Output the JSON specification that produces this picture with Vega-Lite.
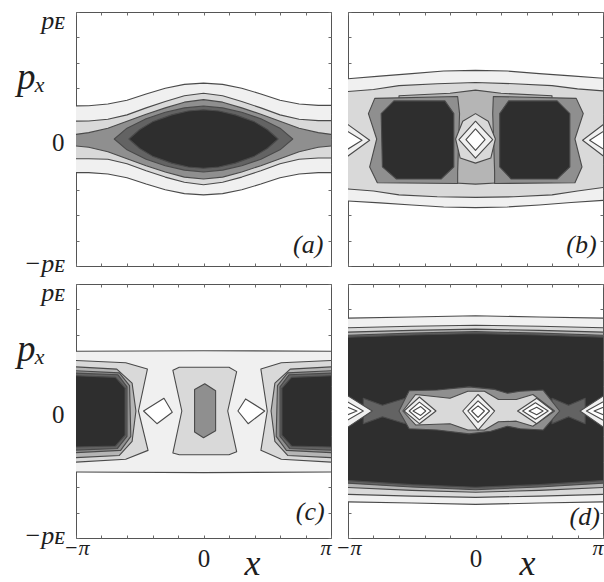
{
  "$schema": "https://vega.github.io/schema/vega-lite/v6.json",
  "background": "white",
  "padding": {"left": 15, "top": 6, "right": 0, "bottom": 0},
  "config": {
    "view": {"stroke": "#555555", "strokeWidth": 1},
    "axis": {"domain": false, "grid": false, "ticks": true, "tickSize": -3, "tickColor": "#6a6a6a", "tickWidth": 1, "labelFont": "Liberation Serif", "labelColor": "#1e1e1e", "titleFont": "Liberation Serif", "titleColor": "#1e1e1e", "titleFontWeight": "normal", "labelOverlap": false, "labelFlush": false, "labelBound": false}
  },
  "datasets": {
    "A": [
      {"id":"a1","lv":1,"i":0,"x":-1.05,"p":0.26},{"id":"a1","lv":1,"i":1,"x":-0.9,"p":0.262},{"id":"a1","lv":1,"i":2,"x":-0.75,"p":0.275},{"id":"a1","lv":1,"i":3,"x":-0.6,"p":0.305},{"id":"a1","lv":1,"i":4,"x":-0.45,"p":0.355},{"id":"a1","lv":1,"i":5,"x":-0.3,"p":0.4},{"id":"a1","lv":1,"i":6,"x":-0.15,"p":0.43},{"id":"a1","lv":1,"i":7,"x":0,"p":0.44},{"id":"a1","lv":1,"i":8,"x":0.15,"p":0.43},{"id":"a1","lv":1,"i":9,"x":0.3,"p":0.4},{"id":"a1","lv":1,"i":10,"x":0.45,"p":0.355},{"id":"a1","lv":1,"i":11,"x":0.6,"p":0.305},{"id":"a1","lv":1,"i":12,"x":0.75,"p":0.275},{"id":"a1","lv":1,"i":13,"x":0.9,"p":0.265},{"id":"a1","lv":1,"i":14,"x":1.05,"p":0.265},
      {"id":"a1","lv":1,"i":15,"x":1.05,"p":-0.265},{"id":"a1","lv":1,"i":16,"x":0.9,"p":-0.265},{"id":"a1","lv":1,"i":17,"x":0.75,"p":-0.275},{"id":"a1","lv":1,"i":18,"x":0.6,"p":-0.305},{"id":"a1","lv":1,"i":19,"x":0.45,"p":-0.355},{"id":"a1","lv":1,"i":20,"x":0.3,"p":-0.4},{"id":"a1","lv":1,"i":21,"x":0.15,"p":-0.43},{"id":"a1","lv":1,"i":22,"x":0,"p":-0.44},{"id":"a1","lv":1,"i":23,"x":-0.15,"p":-0.43},{"id":"a1","lv":1,"i":24,"x":-0.3,"p":-0.4},{"id":"a1","lv":1,"i":25,"x":-0.45,"p":-0.355},{"id":"a1","lv":1,"i":26,"x":-0.6,"p":-0.305},{"id":"a1","lv":1,"i":27,"x":-0.75,"p":-0.275},{"id":"a1","lv":1,"i":28,"x":-0.9,"p":-0.265},{"id":"a1","lv":1,"i":29,"x":-1.05,"p":-0.265},
      {"id":"a2","lv":2,"i":0,"x":-1.05,"p":0.14},{"id":"a2","lv":2,"i":1,"x":-0.9,"p":0.142},{"id":"a2","lv":2,"i":2,"x":-0.75,"p":0.155},{"id":"a2","lv":2,"i":3,"x":-0.6,"p":0.19},{"id":"a2","lv":2,"i":4,"x":-0.45,"p":0.245},{"id":"a2","lv":2,"i":5,"x":-0.3,"p":0.295},{"id":"a2","lv":2,"i":6,"x":-0.15,"p":0.34},{"id":"a2","lv":2,"i":7,"x":0,"p":0.36},{"id":"a2","lv":2,"i":8,"x":0.15,"p":0.34},{"id":"a2","lv":2,"i":9,"x":0.3,"p":0.295},{"id":"a2","lv":2,"i":10,"x":0.45,"p":0.245},{"id":"a2","lv":2,"i":11,"x":0.6,"p":0.19},{"id":"a2","lv":2,"i":12,"x":0.75,"p":0.155},{"id":"a2","lv":2,"i":13,"x":0.9,"p":0.145},{"id":"a2","lv":2,"i":14,"x":1.05,"p":0.145},
      {"id":"a2","lv":2,"i":15,"x":1.05,"p":-0.15},{"id":"a2","lv":2,"i":16,"x":0.9,"p":-0.15},{"id":"a2","lv":2,"i":17,"x":0.75,"p":-0.16},{"id":"a2","lv":2,"i":18,"x":0.6,"p":-0.195},{"id":"a2","lv":2,"i":19,"x":0.45,"p":-0.25},{"id":"a2","lv":2,"i":20,"x":0.3,"p":-0.3},{"id":"a2","lv":2,"i":21,"x":0.15,"p":-0.34},{"id":"a2","lv":2,"i":22,"x":0,"p":-0.36},{"id":"a2","lv":2,"i":23,"x":-0.15,"p":-0.34},{"id":"a2","lv":2,"i":24,"x":-0.3,"p":-0.3},{"id":"a2","lv":2,"i":25,"x":-0.45,"p":-0.25},{"id":"a2","lv":2,"i":26,"x":-0.6,"p":-0.195},{"id":"a2","lv":2,"i":27,"x":-0.75,"p":-0.16},{"id":"a2","lv":2,"i":28,"x":-0.9,"p":-0.155},{"id":"a2","lv":2,"i":29,"x":-1.05,"p":-0.155},
      {"id":"a3","lv":4,"i":0,"x":-1.05,"p":0.03},{"id":"a3","lv":4,"i":1,"x":-0.9,"p":0.05},{"id":"a3","lv":4,"i":2,"x":-0.75,"p":0.085},{"id":"a3","lv":4,"i":3,"x":-0.6,"p":0.14},{"id":"a3","lv":4,"i":4,"x":-0.45,"p":0.195},{"id":"a3","lv":4,"i":5,"x":-0.3,"p":0.245},{"id":"a3","lv":4,"i":6,"x":-0.15,"p":0.29},{"id":"a3","lv":4,"i":7,"x":0,"p":0.31},{"id":"a3","lv":4,"i":8,"x":0.15,"p":0.29},{"id":"a3","lv":4,"i":9,"x":0.3,"p":0.245},{"id":"a3","lv":4,"i":10,"x":0.45,"p":0.195},{"id":"a3","lv":4,"i":11,"x":0.6,"p":0.14},{"id":"a3","lv":4,"i":12,"x":0.75,"p":0.085},{"id":"a3","lv":4,"i":13,"x":0.9,"p":0.05},{"id":"a3","lv":4,"i":14,"x":1.05,"p":0.03},
      {"id":"a3","lv":4,"i":15,"x":1.05,"p":-0.05},{"id":"a3","lv":4,"i":16,"x":0.9,"p":-0.065},{"id":"a3","lv":4,"i":17,"x":0.75,"p":-0.1},{"id":"a3","lv":4,"i":18,"x":0.6,"p":-0.155},{"id":"a3","lv":4,"i":19,"x":0.45,"p":-0.21},{"id":"a3","lv":4,"i":20,"x":0.3,"p":-0.26},{"id":"a3","lv":4,"i":21,"x":0.15,"p":-0.3},{"id":"a3","lv":4,"i":22,"x":0,"p":-0.315},{"id":"a3","lv":4,"i":23,"x":-0.15,"p":-0.3},{"id":"a3","lv":4,"i":24,"x":-0.3,"p":-0.26},{"id":"a3","lv":4,"i":25,"x":-0.45,"p":-0.21},{"id":"a3","lv":4,"i":26,"x":-0.6,"p":-0.155},{"id":"a3","lv":4,"i":27,"x":-0.75,"p":-0.1},{"id":"a3","lv":4,"i":28,"x":-0.9,"p":-0.065},{"id":"a3","lv":4,"i":29,"x":-1.05,"p":-0.05},
      {"id":"a4","lv":5,"i":0,"x":-0.7,"p":0},{"id":"a4","lv":5,"i":1,"x":-0.6,"p":0.085},{"id":"a4","lv":5,"i":2,"x":-0.45,"p":0.16},{"id":"a4","lv":5,"i":3,"x":-0.3,"p":0.21},{"id":"a4","lv":5,"i":4,"x":-0.15,"p":0.245},{"id":"a4","lv":5,"i":5,"x":0,"p":0.26},{"id":"a4","lv":5,"i":6,"x":0.15,"p":0.245},{"id":"a4","lv":5,"i":7,"x":0.3,"p":0.21},{"id":"a4","lv":5,"i":8,"x":0.45,"p":0.16},{"id":"a4","lv":5,"i":9,"x":0.6,"p":0.085},{"id":"a4","lv":5,"i":10,"x":0.7,"p":0},{"id":"a4","lv":5,"i":11,"x":0.6,"p":-0.085},{"id":"a4","lv":5,"i":12,"x":0.45,"p":-0.16},{"id":"a4","lv":5,"i":13,"x":0.3,"p":-0.21},{"id":"a4","lv":5,"i":14,"x":0.15,"p":-0.245},{"id":"a4","lv":5,"i":15,"x":0,"p":-0.26},{"id":"a4","lv":5,"i":16,"x":-0.15,"p":-0.245},{"id":"a4","lv":5,"i":17,"x":-0.3,"p":-0.21},{"id":"a4","lv":5,"i":18,"x":-0.45,"p":-0.16},{"id":"a4","lv":5,"i":19,"x":-0.6,"p":-0.085},
      {"id":"a5","lv":6,"i":0,"x":-0.585,"p":0},{"id":"a5","lv":6,"i":1,"x":-0.5,"p":0.075},{"id":"a5","lv":6,"i":2,"x":-0.4,"p":0.135},{"id":"a5","lv":6,"i":3,"x":-0.25,"p":0.19},{"id":"a5","lv":6,"i":4,"x":-0.12,"p":0.22},{"id":"a5","lv":6,"i":5,"x":0,"p":0.23},{"id":"a5","lv":6,"i":6,"x":0.12,"p":0.22},{"id":"a5","lv":6,"i":7,"x":0.25,"p":0.19},{"id":"a5","lv":6,"i":8,"x":0.4,"p":0.135},{"id":"a5","lv":6,"i":9,"x":0.5,"p":0.075},{"id":"a5","lv":6,"i":10,"x":0.585,"p":0},{"id":"a5","lv":6,"i":11,"x":0.5,"p":-0.075},{"id":"a5","lv":6,"i":12,"x":0.4,"p":-0.135},{"id":"a5","lv":6,"i":13,"x":0.25,"p":-0.19},{"id":"a5","lv":6,"i":14,"x":0.12,"p":-0.22},{"id":"a5","lv":6,"i":15,"x":0,"p":-0.23},{"id":"a5","lv":6,"i":16,"x":-0.12,"p":-0.22},{"id":"a5","lv":6,"i":17,"x":-0.25,"p":-0.19},{"id":"a5","lv":6,"i":18,"x":-0.4,"p":-0.135},{"id":"a5","lv":6,"i":19,"x":-0.5,"p":-0.075}
    ],
    "B": [
      {"id":"b1","lv":1,"i":0,"x":-1.05,"p":0.47},{"id":"b1","lv":1,"i":1,"x":-0.75,"p":0.495},{"id":"b1","lv":1,"i":2,"x":-0.5,"p":0.515},{"id":"b1","lv":1,"i":3,"x":-0.25,"p":0.535},{"id":"b1","lv":1,"i":4,"x":0,"p":0.54},{"id":"b1","lv":1,"i":5,"x":0.25,"p":0.535},{"id":"b1","lv":1,"i":6,"x":0.5,"p":0.515},{"id":"b1","lv":1,"i":7,"x":0.75,"p":0.497},{"id":"b1","lv":1,"i":8,"x":1.05,"p":0.475},
      {"id":"b1","lv":1,"i":9,"x":1.05,"p":-0.48},{"id":"b1","lv":1,"i":10,"x":0.75,"p":-0.5},{"id":"b1","lv":1,"i":11,"x":0.5,"p":-0.52},{"id":"b1","lv":1,"i":12,"x":0.25,"p":-0.535},{"id":"b1","lv":1,"i":13,"x":0,"p":-0.54},{"id":"b1","lv":1,"i":14,"x":-0.25,"p":-0.535},{"id":"b1","lv":1,"i":15,"x":-0.5,"p":-0.52},{"id":"b1","lv":1,"i":16,"x":-0.75,"p":-0.503},{"id":"b1","lv":1,"i":17,"x":-1.05,"p":-0.485},
      {"id":"b2","lv":2,"i":0,"x":-1.05,"p":0.37},{"id":"b2","lv":2,"i":1,"x":-0.8,"p":0.39},{"id":"b2","lv":2,"i":2,"x":-0.6,"p":0.42},{"id":"b2","lv":2,"i":3,"x":-0.3,"p":0.435},{"id":"b2","lv":2,"i":4,"x":0,"p":0.445},{"id":"b2","lv":2,"i":5,"x":0.3,"p":0.435},{"id":"b2","lv":2,"i":6,"x":0.6,"p":0.42},{"id":"b2","lv":2,"i":7,"x":0.8,"p":0.395},{"id":"b2","lv":2,"i":8,"x":1.05,"p":0.375},
      {"id":"b2","lv":2,"i":9,"x":1.05,"p":-0.375},{"id":"b2","lv":2,"i":10,"x":0.8,"p":-0.41},{"id":"b2","lv":2,"i":11,"x":0.6,"p":-0.44},{"id":"b2","lv":2,"i":12,"x":0.3,"p":-0.455},{"id":"b2","lv":2,"i":13,"x":0,"p":-0.46},{"id":"b2","lv":2,"i":14,"x":-0.3,"p":-0.455},{"id":"b2","lv":2,"i":15,"x":-0.6,"p":-0.44},{"id":"b2","lv":2,"i":16,"x":-0.8,"p":-0.41},{"id":"b2","lv":2,"i":17,"x":-1.05,"p":-0.39},
      {"id":"b3","lv":3,"i":0,"x":-0.6,"p":0.34},{"id":"b3","lv":3,"i":1,"x":-0.2,"p":0.36},{"id":"b3","lv":3,"i":2,"x":0,"p":0.385},{"id":"b3","lv":3,"i":3,"x":0.2,"p":0.36},{"id":"b3","lv":3,"i":4,"x":0.6,"p":0.34},{"id":"b3","lv":3,"i":5,"x":0.6,"p":-0.34},{"id":"b3","lv":3,"i":6,"x":0.2,"p":-0.345},{"id":"b3","lv":3,"i":7,"x":0,"p":-0.355},{"id":"b3","lv":3,"i":8,"x":-0.2,"p":-0.345},{"id":"b3","lv":3,"i":9,"x":-0.6,"p":-0.34},
      {"id":"b4","lv":4,"i":0,"x":-0.79,"p":0.32},{"id":"b4","lv":4,"i":1,"x":-0.14,"p":0.335},{"id":"b4","lv":4,"i":2,"x":-0.125,"p":0.2},{"id":"b4","lv":4,"i":3,"x":-0.14,"p":-0.26},{"id":"b4","lv":4,"i":4,"x":-0.14,"p":-0.35},{"id":"b4","lv":4,"i":5,"x":-0.77,"p":-0.345},{"id":"b4","lv":4,"i":6,"x":-0.83,"p":-0.22},{"id":"b4","lv":4,"i":7,"x":-0.775,"p":0},{"id":"b4","lv":4,"i":8,"x":-0.84,"p":0.2},
      {"id":"b5","lv":4,"i":0,"x":0.14,"p":0.335},{"id":"b5","lv":4,"i":1,"x":0.79,"p":0.32},{"id":"b5","lv":4,"i":2,"x":0.845,"p":0.2},{"id":"b5","lv":4,"i":3,"x":0.78,"p":0},{"id":"b5","lv":4,"i":4,"x":0.835,"p":-0.22},{"id":"b5","lv":4,"i":5,"x":0.78,"p":-0.345},{"id":"b5","lv":4,"i":6,"x":0.15,"p":-0.35},{"id":"b5","lv":4,"i":7,"x":0.15,"p":-0.26},{"id":"b5","lv":4,"i":8,"x":0.135,"p":0.2},
      {"id":"b6","lv":6,"i":0,"x":-0.74,"p":0.2},{"id":"b6","lv":6,"i":1,"x":-0.64,"p":0.3},{"id":"b6","lv":6,"i":2,"x":-0.24,"p":0.3},{"id":"b6","lv":6,"i":3,"x":-0.17,"p":0.2},{"id":"b6","lv":6,"i":4,"x":-0.17,"p":-0.22},{"id":"b6","lv":6,"i":5,"x":-0.27,"p":-0.315},{"id":"b6","lv":6,"i":6,"x":-0.62,"p":-0.315},{"id":"b6","lv":6,"i":7,"x":-0.73,"p":-0.22},
      {"id":"b7","lv":6,"i":0,"x":0.19,"p":0.2},{"id":"b7","lv":6,"i":1,"x":0.26,"p":0.3},{"id":"b7","lv":6,"i":2,"x":0.64,"p":0.3},{"id":"b7","lv":6,"i":3,"x":0.74,"p":0.2},{"id":"b7","lv":6,"i":4,"x":0.74,"p":-0.22},{"id":"b7","lv":6,"i":5,"x":0.64,"p":-0.315},{"id":"b7","lv":6,"i":6,"x":0.28,"p":-0.315},{"id":"b7","lv":6,"i":7,"x":0.19,"p":-0.22},
      {"id":"b8","lv":2,"i":0,"x":-0.156,"p":0},{"id":"b8","lv":2,"i":1,"x":-0.1,"p":0.14},{"id":"b8","lv":2,"i":2,"x":0,"p":0.2},{"id":"b8","lv":2,"i":3,"x":0.1,"p":0.14},{"id":"b8","lv":2,"i":4,"x":0.156,"p":0},{"id":"b8","lv":2,"i":5,"x":0.12,"p":-0.15},{"id":"b8","lv":2,"i":6,"x":0,"p":-0.19},{"id":"b8","lv":2,"i":7,"x":-0.12,"p":-0.15},
      {"id":"b9","lv":1,"i":0,"x":-0.13,"p":-0.005},{"id":"b9","lv":1,"i":1,"x":0,"p":0.14},{"id":"b9","lv":1,"i":2,"x":0.135,"p":-0.005},{"id":"b9","lv":1,"i":3,"x":0,"p":-0.15},
      {"id":"b10","lv":0,"i":0,"x":-0.075,"p":-0.005},{"id":"b10","lv":0,"i":1,"x":0,"p":0.08},{"id":"b10","lv":0,"i":2,"x":0.075,"p":-0.005},{"id":"b10","lv":0,"i":3,"x":0,"p":-0.09},
      {"id":"b11","lv":1,"i":0,"x":-1.05,"p":0.15},{"id":"b11","lv":1,"i":1,"x":-0.83,"p":-0.01},{"id":"b11","lv":1,"i":2,"x":-1.05,"p":-0.17},
      {"id":"b12","lv":0,"i":0,"x":-1.05,"p":0.09},{"id":"b12","lv":0,"i":1,"x":-0.89,"p":-0.01},{"id":"b12","lv":0,"i":2,"x":-1.05,"p":-0.11},
      {"id":"b13","lv":1,"i":0,"x":1.05,"p":0.15},{"id":"b13","lv":1,"i":1,"x":0.84,"p":-0.01},{"id":"b13","lv":1,"i":2,"x":1.05,"p":-0.17},
      {"id":"b14","lv":0,"i":0,"x":1.05,"p":0.09},{"id":"b14","lv":0,"i":1,"x":0.895,"p":-0.01},{"id":"b14","lv":0,"i":2,"x":1.05,"p":-0.11}
    ],
    "C": [
      {"id":"c1","lv":1,"i":0,"x":-1.05,"p":0.47},{"id":"c1","lv":1,"i":1,"x":0,"p":0.475},{"id":"c1","lv":1,"i":2,"x":1.05,"p":0.47},{"id":"c1","lv":1,"i":3,"x":1.05,"p":-0.48},{"id":"c1","lv":1,"i":4,"x":0,"p":-0.485},{"id":"c1","lv":1,"i":5,"x":-1.05,"p":-0.48},
      {"id":"c2","lv":2,"i":0,"x":-1.05,"p":0.4},{"id":"c2","lv":2,"i":1,"x":-0.61,"p":0.38},{"id":"c2","lv":2,"i":2,"x":-0.44,"p":0.33},{"id":"c2","lv":2,"i":3,"x":-0.51,"p":0},{"id":"c2","lv":2,"i":4,"x":-0.435,"p":-0.31},{"id":"c2","lv":2,"i":5,"x":-0.61,"p":-0.38},{"id":"c2","lv":2,"i":6,"x":-1.05,"p":-0.405},
      {"id":"c3","lv":3,"i":0,"x":-1.05,"p":0.35},{"id":"c3","lv":3,"i":1,"x":-0.68,"p":0.33},{"id":"c3","lv":3,"i":2,"x":-0.56,"p":0.22},{"id":"c3","lv":3,"i":3,"x":-0.53,"p":0},{"id":"c3","lv":3,"i":4,"x":-0.56,"p":-0.24},{"id":"c3","lv":3,"i":5,"x":-0.66,"p":-0.35},{"id":"c3","lv":3,"i":6,"x":-1.05,"p":-0.37},
      {"id":"c4","lv":4,"i":0,"x":-1.05,"p":0.32},{"id":"c4","lv":4,"i":1,"x":-0.66,"p":0.3},{"id":"c4","lv":4,"i":2,"x":-0.58,"p":0.2},{"id":"c4","lv":4,"i":3,"x":-0.57,"p":-0.2},{"id":"c4","lv":4,"i":4,"x":-0.65,"p":-0.31},{"id":"c4","lv":4,"i":5,"x":-1.05,"p":-0.33},
      {"id":"c5","lv":5,"i":0,"x":-1.05,"p":0.3},{"id":"c5","lv":5,"i":1,"x":-0.67,"p":0.285},{"id":"c5","lv":5,"i":2,"x":-0.6,"p":0.19},{"id":"c5","lv":5,"i":3,"x":-0.6,"p":-0.2},{"id":"c5","lv":5,"i":4,"x":-0.675,"p":-0.295},{"id":"c5","lv":5,"i":5,"x":-1.05,"p":-0.31},
      {"id":"c6","lv":6,"i":0,"x":-1.05,"p":0.28},{"id":"c6","lv":6,"i":1,"x":-0.69,"p":0.265},{"id":"c6","lv":6,"i":2,"x":-0.615,"p":0.18},{"id":"c6","lv":6,"i":3,"x":-0.615,"p":-0.19},{"id":"c6","lv":6,"i":4,"x":-0.69,"p":-0.275},{"id":"c6","lv":6,"i":5,"x":-1.05,"p":-0.285},
      {"id":"c7","lv":2,"i":0,"x":1.05,"p":0.4},{"id":"c7","lv":2,"i":1,"x":0.61,"p":0.38},{"id":"c7","lv":2,"i":2,"x":0.45,"p":0.33},{"id":"c7","lv":2,"i":3,"x":0.5,"p":0},{"id":"c7","lv":2,"i":4,"x":0.45,"p":-0.31},{"id":"c7","lv":2,"i":5,"x":0.61,"p":-0.38},{"id":"c7","lv":2,"i":6,"x":1.05,"p":-0.405},
      {"id":"c8","lv":3,"i":0,"x":1.05,"p":0.35},{"id":"c8","lv":3,"i":1,"x":0.68,"p":0.33},{"id":"c8","lv":3,"i":2,"x":0.56,"p":0.22},{"id":"c8","lv":3,"i":3,"x":0.53,"p":0},{"id":"c8","lv":3,"i":4,"x":0.56,"p":-0.24},{"id":"c8","lv":3,"i":5,"x":0.66,"p":-0.35},{"id":"c8","lv":3,"i":6,"x":1.05,"p":-0.37},
      {"id":"c9","lv":4,"i":0,"x":1.05,"p":0.32},{"id":"c9","lv":4,"i":1,"x":0.66,"p":0.3},{"id":"c9","lv":4,"i":2,"x":0.58,"p":0.2},{"id":"c9","lv":4,"i":3,"x":0.57,"p":-0.2},{"id":"c9","lv":4,"i":4,"x":0.65,"p":-0.31},{"id":"c9","lv":4,"i":5,"x":1.05,"p":-0.33},
      {"id":"c10","lv":5,"i":0,"x":1.05,"p":0.3},{"id":"c10","lv":5,"i":1,"x":0.67,"p":0.285},{"id":"c10","lv":5,"i":2,"x":0.6,"p":0.19},{"id":"c10","lv":5,"i":3,"x":0.6,"p":-0.2},{"id":"c10","lv":5,"i":4,"x":0.675,"p":-0.295},{"id":"c10","lv":5,"i":5,"x":1.05,"p":-0.31},
      {"id":"c11","lv":6,"i":0,"x":1.05,"p":0.28},{"id":"c11","lv":6,"i":1,"x":0.69,"p":0.265},{"id":"c11","lv":6,"i":2,"x":0.615,"p":0.18},{"id":"c11","lv":6,"i":3,"x":0.615,"p":-0.19},{"id":"c11","lv":6,"i":4,"x":0.69,"p":-0.275},{"id":"c11","lv":6,"i":5,"x":1.05,"p":-0.285},
      {"id":"c12","lv":2,"i":0,"x":-0.24,"p":0.32},{"id":"c12","lv":2,"i":1,"x":-0.19,"p":0.345},{"id":"c12","lv":2,"i":2,"x":0.2,"p":0.345},{"id":"c12","lv":2,"i":3,"x":0.26,"p":0.31},{"id":"c12","lv":2,"i":4,"x":0.19,"p":0},{"id":"c12","lv":2,"i":5,"x":0.26,"p":-0.32},{"id":"c12","lv":2,"i":6,"x":0.2,"p":-0.345},{"id":"c12","lv":2,"i":7,"x":-0.19,"p":-0.345},{"id":"c12","lv":2,"i":8,"x":-0.24,"p":-0.33},{"id":"c12","lv":2,"i":9,"x":-0.17,"p":0},
      {"id":"c13","lv":4,"i":0,"x":-0.07,"p":0.17},{"id":"c13","lv":4,"i":1,"x":0.01,"p":0.215},{"id":"c13","lv":4,"i":2,"x":0.095,"p":0.16},{"id":"c13","lv":4,"i":3,"x":0.095,"p":-0.155},{"id":"c13","lv":4,"i":4,"x":0,"p":-0.21},{"id":"c13","lv":4,"i":5,"x":-0.07,"p":-0.165},
      {"id":"c14","lv":0,"i":0,"x":-0.47,"p":0},{"id":"c14","lv":0,"i":1,"x":-0.31,"p":0.1},{"id":"c14","lv":0,"i":2,"x":-0.245,"p":-0.01},{"id":"c14","lv":0,"i":3,"x":-0.365,"p":-0.1},
      {"id":"c15","lv":0,"i":0,"x":0.27,"p":0},{"id":"c15","lv":0,"i":1,"x":0.33,"p":0.095},{"id":"c15","lv":0,"i":2,"x":0.48,"p":0},{"id":"c15","lv":0,"i":3,"x":0.35,"p":-0.1}
    ],
    "D": [
      {"id":"d1","lv":1,"i":0,"x":-1.05,"p":0.73},{"id":"d1","lv":1,"i":1,"x":-0.5,"p":0.74},{"id":"d1","lv":1,"i":2,"x":0,"p":0.75},{"id":"d1","lv":1,"i":3,"x":0.5,"p":0.74},{"id":"d1","lv":1,"i":4,"x":1.05,"p":0.73},{"id":"d1","lv":1,"i":5,"x":1.05,"p":-0.715},{"id":"d1","lv":1,"i":6,"x":0.5,"p":-0.725},{"id":"d1","lv":1,"i":7,"x":0,"p":-0.735},{"id":"d1","lv":1,"i":8,"x":-0.5,"p":-0.725},{"id":"d1","lv":1,"i":9,"x":-1.05,"p":-0.715},
      {"id":"d2","lv":2,"i":0,"x":-1.05,"p":0.655},{"id":"d2","lv":2,"i":1,"x":-0.5,"p":0.667},{"id":"d2","lv":2,"i":2,"x":0,"p":0.675},{"id":"d2","lv":2,"i":3,"x":0.5,"p":0.667},{"id":"d2","lv":2,"i":4,"x":1.05,"p":0.655},{"id":"d2","lv":2,"i":5,"x":1.05,"p":-0.655},{"id":"d2","lv":2,"i":6,"x":0.5,"p":-0.67},{"id":"d2","lv":2,"i":7,"x":0,"p":-0.68},{"id":"d2","lv":2,"i":8,"x":-0.5,"p":-0.67},{"id":"d2","lv":2,"i":9,"x":-1.05,"p":-0.655},
      {"id":"d3","lv":3,"i":0,"x":-1.05,"p":0.62},{"id":"d3","lv":3,"i":1,"x":-0.5,"p":0.635},{"id":"d3","lv":3,"i":2,"x":0,"p":0.645},{"id":"d3","lv":3,"i":3,"x":0.5,"p":0.635},{"id":"d3","lv":3,"i":4,"x":1.05,"p":0.62},{"id":"d3","lv":3,"i":5,"x":1.05,"p":-0.6},{"id":"d3","lv":3,"i":6,"x":0.5,"p":-0.625},{"id":"d3","lv":3,"i":7,"x":0,"p":-0.64},{"id":"d3","lv":3,"i":8,"x":-0.5,"p":-0.625},{"id":"d3","lv":3,"i":9,"x":-1.05,"p":-0.6},
      {"id":"d4","lv":5,"i":0,"x":-1.05,"p":0.595},{"id":"d4","lv":5,"i":1,"x":-0.5,"p":0.613},{"id":"d4","lv":5,"i":2,"x":0,"p":0.625},{"id":"d4","lv":5,"i":3,"x":0.5,"p":0.613},{"id":"d4","lv":5,"i":4,"x":1.05,"p":0.595},{"id":"d4","lv":5,"i":5,"x":1.05,"p":-0.565},{"id":"d4","lv":5,"i":6,"x":0.5,"p":-0.598},{"id":"d4","lv":5,"i":7,"x":0,"p":-0.62},{"id":"d4","lv":5,"i":8,"x":-0.5,"p":-0.598},{"id":"d4","lv":5,"i":9,"x":-1.05,"p":-0.565},
      {"id":"d5","lv":6,"i":0,"x":-1.05,"p":0.58},{"id":"d5","lv":6,"i":1,"x":-0.5,"p":0.598},{"id":"d5","lv":6,"i":2,"x":0,"p":0.61},{"id":"d5","lv":6,"i":3,"x":0.5,"p":0.598},{"id":"d5","lv":6,"i":4,"x":1.05,"p":0.58},{"id":"d5","lv":6,"i":5,"x":1.05,"p":-0.545},{"id":"d5","lv":6,"i":6,"x":0.5,"p":-0.58},{"id":"d5","lv":6,"i":7,"x":0,"p":-0.6},{"id":"d5","lv":6,"i":8,"x":-0.5,"p":-0.58},{"id":"d5","lv":6,"i":9,"x":-1.05,"p":-0.545},
      {"id":"d6","lv":5,"i":0,"x":-0.88,"p":0.1},{"id":"d6","lv":5,"i":1,"x":-0.73,"p":0.045},{"id":"d6","lv":5,"i":2,"x":-0.55,"p":0.1},{"id":"d6","lv":5,"i":3,"x":-0.55,"p":-0.1},{"id":"d6","lv":5,"i":4,"x":-0.73,"p":-0.045},{"id":"d6","lv":5,"i":5,"x":-0.88,"p":-0.1},
      {"id":"d7","lv":5,"i":0,"x":0.6,"p":0.1},{"id":"d7","lv":5,"i":1,"x":0.73,"p":0.045},{"id":"d7","lv":5,"i":2,"x":0.86,"p":0.1},{"id":"d7","lv":5,"i":3,"x":0.86,"p":-0.1},{"id":"d7","lv":5,"i":4,"x":0.73,"p":-0.045},{"id":"d7","lv":5,"i":5,"x":0.6,"p":-0.1},
      {"id":"d8","lv":4,"i":0,"x":-0.6,"p":0},{"id":"d8","lv":4,"i":1,"x":-0.52,"p":0.16},{"id":"d8","lv":4,"i":2,"x":-0.3,"p":0.165},{"id":"d8","lv":4,"i":3,"x":-0.05,"p":0.19},{"id":"d8","lv":4,"i":4,"x":0.15,"p":0.17},{"id":"d8","lv":4,"i":5,"x":0.25,"p":0.14},{"id":"d8","lv":4,"i":6,"x":0.35,"p":0.155},{"id":"d8","lv":4,"i":7,"x":0.53,"p":0.165},{"id":"d8","lv":4,"i":8,"x":0.66,"p":0},{"id":"d8","lv":4,"i":9,"x":0.53,"p":-0.15},{"id":"d8","lv":4,"i":10,"x":0.35,"p":-0.14},{"id":"d8","lv":4,"i":11,"x":0.25,"p":-0.12},{"id":"d8","lv":4,"i":12,"x":0.12,"p":-0.16},{"id":"d8","lv":4,"i":13,"x":-0.05,"p":-0.18},{"id":"d8","lv":4,"i":14,"x":-0.3,"p":-0.15},{"id":"d8","lv":4,"i":15,"x":-0.52,"p":-0.14},
      {"id":"d9","lv":2,"i":0,"x":-0.57,"p":0},{"id":"d9","lv":2,"i":1,"x":-0.47,"p":0.13},{"id":"d9","lv":2,"i":2,"x":-0.2,"p":0.1},{"id":"d9","lv":2,"i":3,"x":-0.06,"p":0.155},{"id":"d9","lv":2,"i":4,"x":0.07,"p":0.155},{"id":"d9","lv":2,"i":5,"x":0.18,"p":0.09},{"id":"d9","lv":2,"i":6,"x":0.32,"p":0.09},{"id":"d9","lv":2,"i":7,"x":0.45,"p":0.13},{"id":"d9","lv":2,"i":8,"x":0.62,"p":0},{"id":"d9","lv":2,"i":9,"x":0.45,"p":-0.12},{"id":"d9","lv":2,"i":10,"x":0.32,"p":-0.08},{"id":"d9","lv":2,"i":11,"x":0.18,"p":-0.085},{"id":"d9","lv":2,"i":12,"x":0.07,"p":-0.15},{"id":"d9","lv":2,"i":13,"x":-0.06,"p":-0.15},{"id":"d9","lv":2,"i":14,"x":-0.2,"p":-0.1},{"id":"d9","lv":2,"i":15,"x":-0.47,"p":-0.11},
      {"id":"d10","lv":1,"i":0,"x":-0.56,"p":0},{"id":"d10","lv":1,"i":1,"x":-0.44,"p":0.11},{"id":"d10","lv":1,"i":2,"x":-0.31,"p":0},{"id":"d10","lv":1,"i":3,"x":-0.44,"p":-0.1},
      {"id":"d11","lv":0,"i":0,"x":-0.52,"p":0},{"id":"d11","lv":0,"i":1,"x":-0.44,"p":0.07},{"id":"d11","lv":0,"i":2,"x":-0.35,"p":0},{"id":"d11","lv":0,"i":3,"x":-0.44,"p":-0.07},
      {"id":"d12","lv":0,"i":0,"x":-0.49,"p":0},{"id":"d12","lv":0,"i":1,"x":-0.43,"p":0.035},{"id":"d12","lv":0,"i":2,"x":-0.39,"p":0},{"id":"d12","lv":0,"i":3,"x":-0.43,"p":-0.035},
      {"id":"d13","lv":1,"i":0,"x":-0.1,"p":0},{"id":"d13","lv":1,"i":1,"x":0.02,"p":0.13},{"id":"d13","lv":1,"i":2,"x":0.15,"p":0},{"id":"d13","lv":1,"i":3,"x":0.02,"p":-0.15},
      {"id":"d14","lv":0,"i":0,"x":-0.06,"p":0},{"id":"d14","lv":0,"i":1,"x":0.02,"p":0.08},{"id":"d14","lv":0,"i":2,"x":0.11,"p":0},{"id":"d14","lv":0,"i":3,"x":0.02,"p":-0.09},
      {"id":"d15","lv":0,"i":0,"x":-0.03,"p":0},{"id":"d15","lv":0,"i":1,"x":0.02,"p":0.04},{"id":"d15","lv":0,"i":2,"x":0.07,"p":0},{"id":"d15","lv":0,"i":3,"x":0.02,"p":-0.05},
      {"id":"d16","lv":1,"i":0,"x":0.33,"p":0},{"id":"d16","lv":1,"i":1,"x":0.48,"p":0.1},{"id":"d16","lv":1,"i":2,"x":0.61,"p":0},{"id":"d16","lv":1,"i":3,"x":0.48,"p":-0.1},
      {"id":"d17","lv":0,"i":0,"x":0.37,"p":0},{"id":"d17","lv":0,"i":1,"x":0.47,"p":0.065},{"id":"d17","lv":0,"i":2,"x":0.57,"p":0},{"id":"d17","lv":0,"i":3,"x":0.47,"p":-0.065},
      {"id":"d18","lv":0,"i":0,"x":0.42,"p":0},{"id":"d18","lv":0,"i":1,"x":0.48,"p":0.03},{"id":"d18","lv":0,"i":2,"x":0.53,"p":0},{"id":"d18","lv":0,"i":3,"x":0.48,"p":-0.03},
      {"id":"d19","lv":1,"i":0,"x":-1.05,"p":0.15},{"id":"d19","lv":1,"i":1,"x":-0.81,"p":0},{"id":"d19","lv":1,"i":2,"x":-1.05,"p":-0.16},
      {"id":"d20","lv":0,"i":0,"x":-1.05,"p":0.1},{"id":"d20","lv":0,"i":1,"x":-0.88,"p":0},{"id":"d20","lv":0,"i":2,"x":-1.05,"p":-0.1},
      {"id":"d21","lv":0,"i":0,"x":-1.05,"p":0.05},{"id":"d21","lv":0,"i":1,"x":-0.93,"p":0},{"id":"d21","lv":0,"i":2,"x":-1.05,"p":-0.05},
      {"id":"d22","lv":1,"i":0,"x":1.05,"p":0.15},{"id":"d22","lv":1,"i":1,"x":0.82,"p":0},{"id":"d22","lv":1,"i":2,"x":1.05,"p":-0.16},
      {"id":"d23","lv":0,"i":0,"x":1.05,"p":0.1},{"id":"d23","lv":0,"i":1,"x":0.87,"p":0},{"id":"d23","lv":0,"i":2,"x":1.05,"p":-0.1},
      {"id":"d24","lv":0,"i":0,"x":1.05,"p":0.05},{"id":"d24","lv":0,"i":1,"x":0.93,"p":0},{"id":"d24","lv":0,"i":2,"x":1.05,"p":-0.05}
    ]
  },
  "columns": 2,
  "spacing": {"row": 18, "column": 17},
  "bounds": "flush",
  "concat": [
    {
      "width": 255, "height": 254,
      "resolve": {"axis": {"x": "independent", "y": "independent"}},
      "layer": [
        {
          "data": {"name": "A"},
          "mark": {"type": "line", "filled": true, "interpolate": "linear-closed", "stroke": "#4a4a4a", "strokeWidth": 1.1, "strokeJoin": "round", "clip": true},
          "encoding": {
            "x": {"field": "x", "type": "quantitative", "scale": {"domain": [-1, 1], "nice": false, "zero": false}, "axis": {"values": [-1,-0.8,-0.6,-0.4,-0.2,0,0.2,0.4,0.6,0.8,1], "labels": false, "title": null}},
            "y": {"field": "p", "type": "quantitative", "scale": {"domain": [-1, 1], "nice": false, "zero": false}, "axis": {"values": [-1,-0.8,-0.6,-0.4,-0.2,0,0.2,0.4,0.6,0.8,1], "labelExpr": "datum.value == 1 ? 'pᴇ' : datum.value == -1 ? '−pᴇ' : datum.value == 0 ? '0' : ''", "labelFontSize": {"condition": {"test": "datum.value == 0", "value": 25}, "value": 26}, "labelFontStyle": {"condition": {"test": "datum.value == 0", "value": "normal"}, "value": "italic"}, "labelBaseline": "middle", "labelOffset": {"condition": [{"test": "datum.value == 1", "value": 8}, {"test": "datum.value == -1", "value": -3}], "value": 3}, "labelPadding": 15, "title": "pₓ", "titleAngle": 0, "titleX": -45, "titleY": 76, "titleAlign": "center", "titleBaseline": "alphabetic", "titleFontSize": 37, "titleFontStyle": "italic"}},
            "color": {"field": "lv", "type": "ordinal", "scale": {"domain": [0,1,2,3,4,5,6], "range": ["#ffffff","#f0f0f0","#d9d9d9","#b5b5b5","#8f8f8f","#636363","#2e2e2e"]}, "legend": null},
            "detail": {"field": "id", "type": "nominal"},
            "order": {"field": "i", "type": "quantitative"}
          }
        },
        {
          "data": {"values": [{"tag": "(a)"}]},
          "mark": {"type": "text", "align": "right", "baseline": "bottom", "font": "Liberation Serif", "fontSize": 26, "fontStyle": "italic", "color": "#1e1e1e"},
          "encoding": {
            "text": {"field": "tag"},
            "x": {"datum": 0.94, "type": "quantitative", "axis": {"orient": "top", "values": [-1,-0.8,-0.6,-0.4,-0.2,0,0.2,0.4,0.6,0.8,1], "labels": false, "title": null}},
            "y": {"datum": -0.94, "type": "quantitative", "axis": {"orient": "right", "values": [-1,-0.8,-0.6,-0.4,-0.2,0,0.2,0.4,0.6,0.8,1], "labels": false, "title": null}}
          }
        }
      ]
    },
    {
      "width": 255, "height": 254,
      "resolve": {"axis": {"x": "independent", "y": "independent"}},
      "layer": [
        {
          "data": {"name": "B"},
          "mark": {"type": "line", "filled": true, "interpolate": "linear-closed", "stroke": "#4a4a4a", "strokeWidth": 1.1, "strokeJoin": "round", "clip": true},
          "encoding": {
            "x": {"field": "x", "type": "quantitative", "scale": {"domain": [-1, 1], "nice": false, "zero": false}, "axis": {"values": [-1,-0.8,-0.6,-0.4,-0.2,0,0.2,0.4,0.6,0.8,1], "labels": false, "title": null}},
            "y": {"field": "p", "type": "quantitative", "scale": {"domain": [-1, 1], "nice": false, "zero": false}, "axis": {"values": [-1,-0.8,-0.6,-0.4,-0.2,0,0.2,0.4,0.6,0.8,1], "labels": false, "title": null}},
            "color": {"field": "lv", "type": "ordinal", "scale": {"domain": [0,1,2,3,4,5,6], "range": ["#ffffff","#f0f0f0","#d9d9d9","#b5b5b5","#8f8f8f","#636363","#2e2e2e"]}, "legend": null},
            "detail": {"field": "id", "type": "nominal"},
            "order": {"field": "i", "type": "quantitative"}
          }
        },
        {
          "data": {"values": [{"tag": "(b)"}]},
          "mark": {"type": "text", "align": "right", "baseline": "bottom", "font": "Liberation Serif", "fontSize": 26, "fontStyle": "italic", "color": "#1e1e1e"},
          "encoding": {
            "text": {"field": "tag"},
            "x": {"datum": 0.95, "type": "quantitative", "axis": {"orient": "top", "values": [-1,-0.8,-0.6,-0.4,-0.2,0,0.2,0.4,0.6,0.8,1], "labels": false, "title": null}},
            "y": {"datum": -0.94, "type": "quantitative", "axis": {"orient": "right", "values": [-1,-0.8,-0.6,-0.4,-0.2,0,0.2,0.4,0.6,0.8,1], "labels": false, "title": null}}
          }
        }
      ]
    },
    {
      "width": 255, "height": 254,
      "resolve": {"axis": {"x": "independent", "y": "independent"}},
      "layer": [
        {
          "data": {"name": "C"},
          "mark": {"type": "line", "filled": true, "interpolate": "linear-closed", "stroke": "#4a4a4a", "strokeWidth": 1.1, "strokeJoin": "round", "clip": true},
          "encoding": {
            "x": {"field": "x", "type": "quantitative", "scale": {"domain": [-1, 1], "nice": false, "zero": false}, "axis": {"values": [-1,-0.8,-0.6,-0.4,-0.2,0,0.2,0.4,0.6,0.8,1], "labelExpr": "datum.value == -1 ? '−π' : datum.value == 1 ? 'π' : datum.value == 0 ? '0' : ''", "labelAlign": {"condition": {"test": "datum.value == 1", "value": "right"}, "value": "center"}, "labelBaseline": "alphabetic", "labelFontSize": {"condition": {"test": "datum.value == 0", "value": 25}, "value": 22}, "labelFontStyle": {"condition": {"test": "datum.value == 0", "value": "normal"}, "value": "italic"}, "labelPadding": {"condition": {"test": "datum.value == 0", "value": 31}, "value": 19}, "title": "x", "titleX": 176, "titleY": 36, "titleAlign": "center", "titleBaseline": "alphabetic", "titleFontSize": 36, "titleFontStyle": "italic"}},
            "y": {"field": "p", "type": "quantitative", "scale": {"domain": [-1, 1], "nice": false, "zero": false}, "axis": {"values": [-1,-0.8,-0.6,-0.4,-0.2,0,0.2,0.4,0.6,0.8,1], "labelExpr": "datum.value == 1 ? 'pᴇ' : datum.value == -1 ? '−pᴇ' : datum.value == 0 ? '0' : ''", "labelFontSize": {"condition": {"test": "datum.value == 0", "value": 25}, "value": 26}, "labelFontStyle": {"condition": {"test": "datum.value == 0", "value": "normal"}, "value": "italic"}, "labelBaseline": "middle", "labelOffset": {"condition": [{"test": "datum.value == 1", "value": 8}, {"test": "datum.value == -1", "value": -3}], "value": 3}, "labelPadding": 15, "title": "pₓ", "titleAngle": 0, "titleX": -45, "titleY": 76, "titleAlign": "center", "titleBaseline": "alphabetic", "titleFontSize": 37, "titleFontStyle": "italic"}},
            "color": {"field": "lv", "type": "ordinal", "scale": {"domain": [0,1,2,3,4,5,6], "range": ["#ffffff","#f0f0f0","#d9d9d9","#b5b5b5","#8f8f8f","#636363","#2e2e2e"]}, "legend": null},
            "detail": {"field": "id", "type": "nominal"},
            "order": {"field": "i", "type": "quantitative"}
          }
        },
        {
          "data": {"values": [{"tag": "(c)"}]},
          "mark": {"type": "text", "align": "right", "baseline": "bottom", "font": "Liberation Serif", "fontSize": 26, "fontStyle": "italic", "color": "#1e1e1e"},
          "encoding": {
            "text": {"field": "tag"},
            "x": {"datum": 0.95, "type": "quantitative", "axis": {"orient": "top", "values": [-1,-0.8,-0.6,-0.4,-0.2,0,0.2,0.4,0.6,0.8,1], "labels": false, "title": null}},
            "y": {"datum": -0.9, "type": "quantitative", "axis": {"orient": "right", "values": [-1,-0.8,-0.6,-0.4,-0.2,0,0.2,0.4,0.6,0.8,1], "labels": false, "title": null}}
          }
        }
      ]
    },
    {
      "width": 255, "height": 254,
      "resolve": {"axis": {"x": "independent", "y": "independent"}},
      "layer": [
        {
          "data": {"name": "D"},
          "mark": {"type": "line", "filled": true, "interpolate": "linear-closed", "stroke": "#4a4a4a", "strokeWidth": 1.1, "strokeJoin": "round", "clip": true},
          "encoding": {
            "x": {"field": "x", "type": "quantitative", "scale": {"domain": [-1, 1], "nice": false, "zero": false}, "axis": {"values": [-1,-0.8,-0.6,-0.4,-0.2,0,0.2,0.4,0.6,0.8,1], "labelExpr": "datum.value == -1 ? '−π' : datum.value == 1 ? 'π' : datum.value == 0 ? '0' : ''", "labelAlign": {"condition": {"test": "datum.value == 1", "value": "right"}, "value": "center"}, "labelBaseline": "alphabetic", "labelFontSize": {"condition": {"test": "datum.value == 0", "value": 25}, "value": 22}, "labelFontStyle": {"condition": {"test": "datum.value == 0", "value": "normal"}, "value": "italic"}, "labelPadding": {"condition": {"test": "datum.value == 0", "value": 31}, "value": 19}, "title": "x", "titleX": 179, "titleY": 36, "titleAlign": "center", "titleBaseline": "alphabetic", "titleFontSize": 36, "titleFontStyle": "italic"}},
            "y": {"field": "p", "type": "quantitative", "scale": {"domain": [-1, 1], "nice": false, "zero": false}, "axis": {"values": [-1,-0.8,-0.6,-0.4,-0.2,0,0.2,0.4,0.6,0.8,1], "labels": false, "title": null}},
            "color": {"field": "lv", "type": "ordinal", "scale": {"domain": [0,1,2,3,4,5,6], "range": ["#ffffff","#f0f0f0","#d9d9d9","#b5b5b5","#8f8f8f","#636363","#2e2e2e"]}, "legend": null},
            "detail": {"field": "id", "type": "nominal"},
            "order": {"field": "i", "type": "quantitative"}
          }
        },
        {
          "data": {"values": [{"tag": "(d)"}]},
          "mark": {"type": "text", "align": "right", "baseline": "bottom", "font": "Liberation Serif", "fontSize": 26, "fontStyle": "italic", "color": "#1e1e1e"},
          "encoding": {
            "text": {"field": "tag"},
            "x": {"datum": 0.975, "type": "quantitative", "axis": {"orient": "top", "values": [-1,-0.8,-0.6,-0.4,-0.2,0,0.2,0.4,0.6,0.8,1], "labels": false, "title": null}},
            "y": {"datum": -0.94, "type": "quantitative", "axis": {"orient": "right", "values": [-1,-0.8,-0.6,-0.4,-0.2,0,0.2,0.4,0.6,0.8,1], "labels": false, "title": null}}
          }
        }
      ]
    }
  ]
}
